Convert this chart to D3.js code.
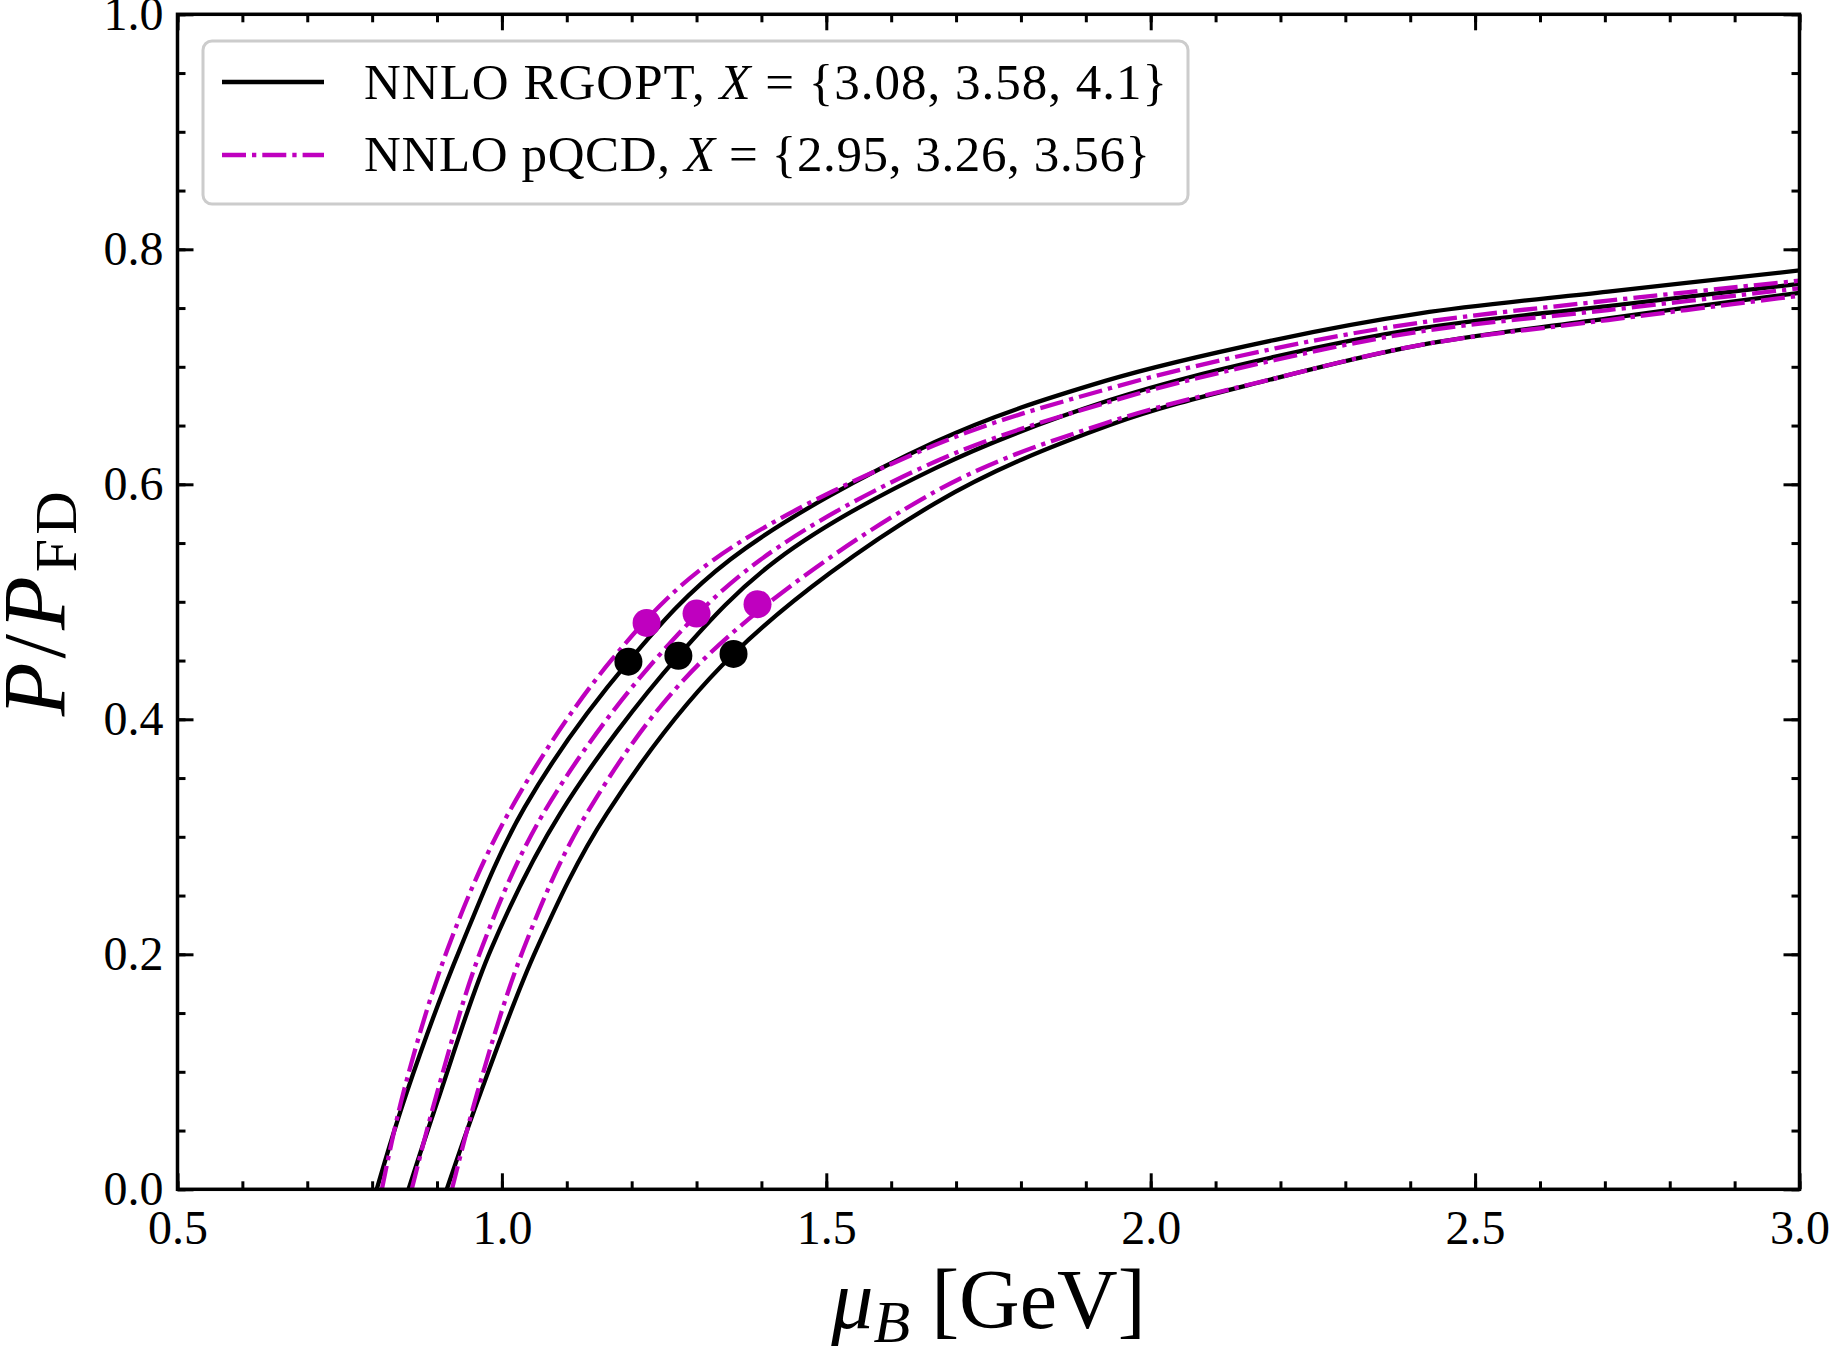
<!DOCTYPE html>
<html><head><meta charset="utf-8">
<script src="https://cdn.jsdelivr.net/npm/d3@7"></script>
<style>body{margin:0;background:#fff}svg{display:block}</style>
</head><body>
<svg id="c" width="1830" height="1348"></svg>
<script>
// ---- data ----
const muRgopt1 = [0.807, 0.853, 0.935, 1.035, 1.195, 1.352, 1.6675, 1.93, 2.192, 2.415, 2.705, 3.0];
const pRgopt1  = [0.0,   0.082, 0.204, 0.325, 0.449, 0.536, 0.636,  0.688, 0.723, 0.7455, 0.764, 0.782];
const muRgopt2 = [0.856, 0.905, 0.983, 1.090, 1.272, 1.4236, 1.6675, 1.937, 2.192, 2.415, 2.705, 3.0];
const pRgopt2  = [0.0,   0.082,  0.204, 0.320, 0.454, 0.5356, 0.6136, 0.6717, 0.7086, 0.7327, 0.7517, 0.7705];
const muRgopt3 = [0.915, 0.967, 1.053, 1.162, 1.357, 1.6675, 1.937, 2.192, 2.415, 2.705, 3.0];
const pRgopt3  = [0.0,   0.082, 0.204, 0.320, 0.4556, 0.5838, 0.6505, 0.6902, 0.7185, 0.7413, 0.763];
const muPqcd1 = [0.815, 0.848, 0.916, 1.010, 1.169, 1.326, 1.6675, 1.937, 2.192, 2.415, 2.705, 3.0];
const pPqcd1  = [0.0,   0.082, 0.204, 0.320, 0.4505, 0.5356, 0.6334, 0.6817, 0.7157, 0.7376, 0.7563, 0.7733];
const muPqcd2 = [0.861, 0.900, 0.968, 1.064, 1.236, 1.398, 1.6675, 1.937, 2.192, 2.415, 2.705, 3.0];
const pPqcd2  = [0.0,   0.082,  0.204, 0.320, 0.4505, 0.5356, 0.6192, 0.6703, 0.7058, 0.730, 0.7483, 0.7668];
const muPqcd3 = [0.923, 0.962, 1.033, 1.131, 1.310, 1.6675, 1.93, 2.192, 2.415, 2.705, 3.0];
const pPqcd3  = [0.0,   0.082, 0.204, 0.320, 0.4505, 0.5937, 0.652, 0.6902, 0.7185, 0.7398, 0.7605];

const rgoptDotMu = [1.195, 1.272, 1.357];
const rgoptDotP  = [0.449, 0.454, 0.4556];
const pqcdDotMu  = [1.223, 1.300, 1.394];
const pqcdDotP   = [0.482, 0.490, 0.498];

const xTicks = [0.5, 1.0, 1.5, 2.0, 2.5, 3.0];
const xTickLabels = ["0.5", "1.0", "1.5", "2.0", "2.5", "3.0"];
const yTicks = [0.0, 0.2, 0.4, 0.6, 0.8, 1.0];
const yTickLabels = ["0.0", "0.2", "0.4", "0.6", "0.8", "1.0"];
const legendRgopt = ["NNLO RGOPT, ", "X", " = {3.08, 3.58, 4.1}"];
const legendPqcd  = ["NNLO pQCD, ", "X", " = {2.95, 3.26, 3.56}"];

// ---- drawing ----
const svg = d3.select("#c");
const L = 177.5, R = 1799.5, T = 14.3, B = 1189.3;
const x = d3.scaleLinear().domain([0.5, 3.0]).range([L, R]);
const y = d3.scaleLinear().domain([0, 1]).range([B, T]);
const FONT = "'Liberation Serif', 'Times New Roman', serif";
const MAG = "#bf00bf";
const LW = 4.3;
const DASH = "24,6,4.3,6";

svg.append("defs").append("clipPath").attr("id", "clip")
  .append("rect").attr("x", L).attr("y", T).attr("width", R - L).attr("height", B - T);

const line = d3.line().x(d => x(d[0])).y(d => y(d[1])).curve(d3.curveCatmullRom.alpha(0.5));
const zip = (a, b) => a.map((v, i) => [v, b[i]]);

const plot = svg.append("g").attr("clip-path", "url(#clip)");
[[muRgopt1, pRgopt1], [muRgopt2, pRgopt2], [muRgopt3, pRgopt3]].forEach(([m, p]) => {
  plot.append("path").attr("d", line(zip(m, p))).attr("fill", "none")
    .attr("stroke", "#000").attr("stroke-width", LW);
});
[[muPqcd1, pPqcd1], [muPqcd2, pPqcd2], [muPqcd3, pPqcd3]].forEach(([m, p]) => {
  plot.append("path").attr("d", line(zip(m, p))).attr("fill", "none")
    .attr("stroke", MAG).attr("stroke-width", LW)
    .attr("stroke-dasharray", DASH);
});
plot.selectAll("circle.r").data(zip(rgoptDotMu, rgoptDotP)).enter().append("circle")
  .attr("cx", d => x(d[0])).attr("cy", d => y(d[1])).attr("r", 14).attr("fill", "#000");
plot.selectAll("circle.p").data(zip(pqcdDotMu, pqcdDotP)).enter().append("circle")
  .attr("cx", d => x(d[0])).attr("cy", d => y(d[1])).attr("r", 14).attr("fill", MAG);

// axes with inward ticks on all sides
const xMinor = d3.range(0.5, 3.0001, 0.1).map(v => +v.toFixed(2));
const yMinor = d3.range(0, 1.0001, 0.05).map(v => +v.toFixed(2));
function styleAxis(g) {
  g.select(".domain").remove();
  g.selectAll("line").attr("stroke", "#000").attr("stroke-width", 3);
  g.selectAll("text").attr("font-family", FONT).attr("font-size", 48).attr("fill", "#000");
}
svg.append("g").attr("transform", `translate(0,${B})`)
  .call(d3.axisBottom(x).tickValues(xMinor).tickSize(-8).tickFormat("")).call(styleAxis);
svg.append("g").attr("transform", `translate(0,${B})`)
  .call(d3.axisBottom(x).tickValues(xTicks).tickSize(-16).tickPadding(21)
    .tickFormat((d, i) => xTickLabels[i])).call(styleAxis);
svg.append("g").attr("transform", `translate(0,${T})`)
  .call(d3.axisTop(x).tickValues(xMinor).tickSize(-8).tickFormat("")).call(styleAxis);
svg.append("g").attr("transform", `translate(0,${T})`)
  .call(d3.axisTop(x).tickValues(xTicks).tickSize(-16).tickFormat("")).call(styleAxis);
svg.append("g").attr("transform", `translate(${L},0)`)
  .call(d3.axisLeft(y).tickValues(yMinor).tickSize(-8).tickFormat("")).call(styleAxis);
svg.append("g").attr("transform", `translate(${L},0)`)
  .call(d3.axisLeft(y).tickValues(yTicks).tickSize(-16).tickPadding(14)
    .tickFormat((d, i) => yTickLabels[i])).call(styleAxis);
svg.append("g").attr("transform", `translate(${R},0)`)
  .call(d3.axisRight(y).tickValues(yMinor).tickSize(-8).tickFormat("")).call(styleAxis);
svg.append("g").attr("transform", `translate(${R},0)`)
  .call(d3.axisRight(y).tickValues(yTicks).tickSize(-16).tickFormat("")).call(styleAxis);

svg.append("rect").attr("x", L).attr("y", T).attr("width", R - L).attr("height", B - T)
  .attr("fill", "none").attr("stroke", "#000").attr("stroke-width", 3.5);

// axis titles
const xt = svg.append("text").attr("x", (L + R) / 2).attr("y", 1328)
  .attr("text-anchor", "middle").attr("font-family", FONT).attr("font-size", 84);
xt.append("tspan").attr("font-style", "italic").text("μ");
xt.append("tspan").attr("font-style", "italic").attr("font-size", 60).attr("dy", 14).text("B");
xt.append("tspan").attr("dy", -14).text(" [GeV]");

const yt = svg.append("text").attr("transform", `translate(64,${(T + B) / 2}) rotate(-90)`)
  .attr("text-anchor", "middle").attr("font-family", FONT).attr("font-size", 88)
  .attr("letter-spacing", 4);
yt.append("tspan").attr("font-style", "italic").text("P");
yt.append("tspan").text("/");
yt.append("tspan").attr("font-style", "italic").text("P");
yt.append("tspan").attr("font-size", 60).attr("dy", 12).text("FD");

// legend
const lg = svg.append("g");
lg.append("rect").attr("x", 203).attr("y", 41).attr("width", 985).attr("height", 163).attr("rx", 9)
  .attr("fill", "#fff").attr("fill-opacity", 0.8).attr("stroke", "#cccccc").attr("stroke-width", 3);
const rows = [
  {parts: legendRgopt, color: "#000", dash: null, cy: 82, base: 99, len: 803},
  {parts: legendPqcd, color: MAG, dash: DASH, cy: 155, base: 171, len: 786}
];
rows.forEach(r => {
  lg.append("line").attr("x1", 222).attr("x2", 324).attr("y1", r.cy).attr("y2", r.cy)
    .attr("stroke", r.color).attr("stroke-width", LW).attr("stroke-dasharray", r.dash);
  const t = lg.append("text").attr("x", 364).attr("y", r.base)
    .attr("font-family", FONT).attr("font-size", 51).attr("fill", "#000")
    .attr("textLength", r.len).attr("lengthAdjust", "spacing");
  t.append("tspan").text(r.parts[0]);
  t.append("tspan").attr("font-style", "italic").text(r.parts[1]);
  t.append("tspan").text(r.parts[2]);
});
</script>
</body></html>
